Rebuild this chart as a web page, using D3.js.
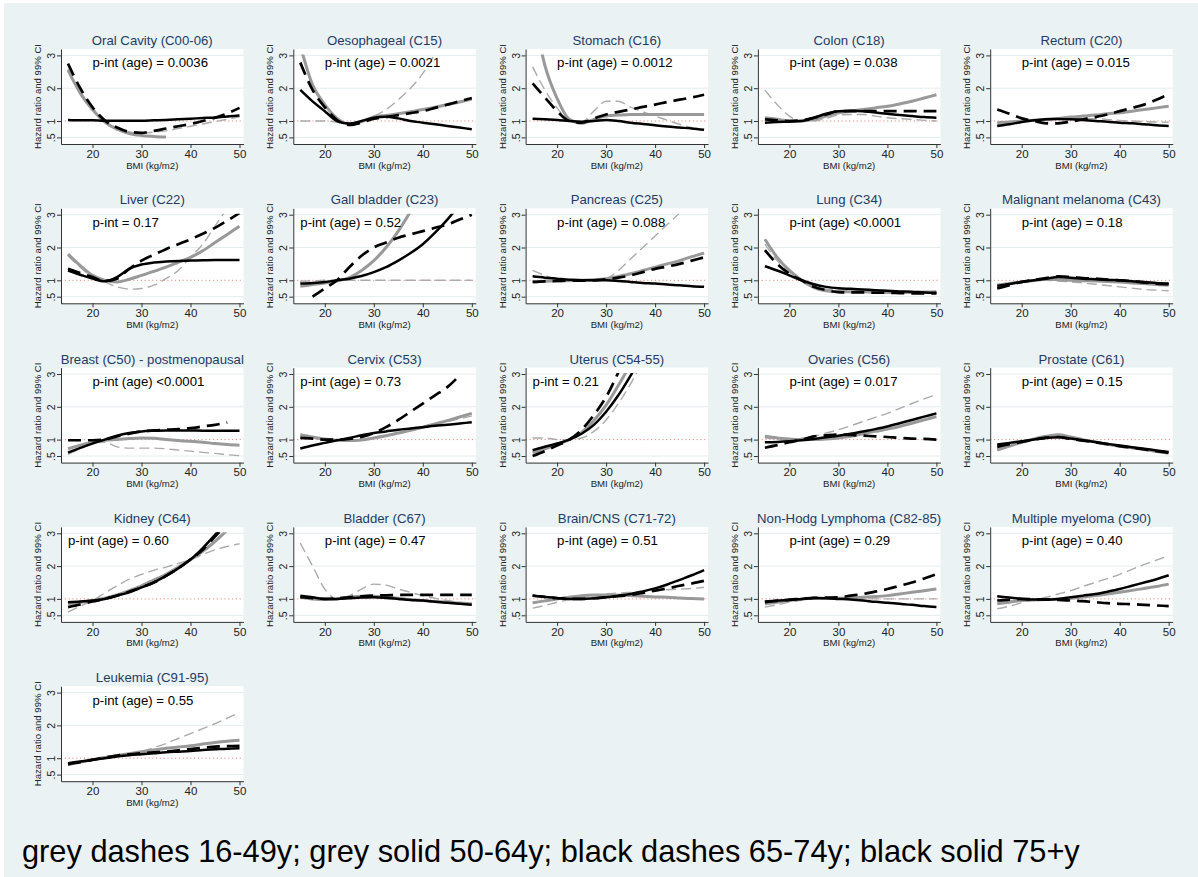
<!DOCTYPE html>
<html><head><meta charset="utf-8">
<script src="https://cdn.jsdelivr.net/npm/d3@7"></script>
<style>
body{margin:0;background:#fff}
svg{display:block}
text{font-family:"Liberation Sans",Arial,sans-serif}
</style>
</head><body>
<svg id="chart" width="1198" height="877"></svg>
<script>
// ---------------- data ----------------
const bmi = [15,17.5,20,22.5,25,27.5,30,32.5,35,37.5,40,42.5,45,47.5,50];
const cancerSites = ["Oral Cavity (C00-06)","Oesophageal (C15)","Stomach (C16)","Colon (C18)","Rectum (C20)",
  "Liver (C22)","Gall bladder (C23)","Pancreas (C25)","Lung (C34)","Malignant melanoma (C43)",
  "Breast (C50) - postmenopausal","Cervix (C53)","Uterus (C54-55)","Ovaries (C56)","Prostate (C61)",
  "Kidney (C64)","Bladder (C67)","Brain/CNS (C71-72)","Non-Hodg Lymphoma (C82-85)","Multiple myeloma (C90)",
  "Leukemia (C91-95)"];
const pIntLabels = ["p-int (age) = 0.0036","p-int (age) = 0.0021","p-int (age) = 0.0012","p-int (age) = 0.038","p-int (age) = 0.015",
  "p-int = 0.17","p-int (age) = 0.52","p-int (age) = 0.088","p-int (age) <0.0001","p-int (age) = 0.18",
  "p-int (age) <0.0001","p-int (age) = 0.73","p-int = 0.21","p-int (age) = 0.017","p-int (age) = 0.15",
  "p-int (age) = 0.60","p-int (age) = 0.47","p-int (age) = 0.51","p-int (age) = 0.29","p-int (age) = 0.40",
  "p-int (age) = 0.55"];
const pLabelBmi = [20,20,20,20,20, 20,15,20,20,20, 20,15,15,20,20, 15,20,20,20,20, 20];
const xTickValues = [20,30,40,50];
const yTickValues = [0.5,1,2,3];
const yTickLabels = [".5","1","2","3"];
const yAxisTitle = "Hazard ratio and 99% CI";
const xAxisTitle = "BMI (kg/m2)";
const legendNote = "grey dashes 16-49y; grey solid 50-64y; black dashes 65-74y; black solid 75+y";
const _ = null;

// grey dashes: age 16-49y
const greyDash16to49 = [
 [2.6,1.9,1.38,1.0,0.78,0.67,0.63,0.66,0.7,0.77,0.84,0.91,0.98,1.05,1.13],
 [1.0,1.0,1.0,0.97,0.92,1.0,1.15,1.35,1.65,2.0,2.45,3.05,_,_,_],
 [2.65,1.95,1.4,1.02,0.97,1.3,1.6,1.6,1.42,1.28,1.15,1.02,0.9,0.8,_],
 [1.94,1.5,1.15,1.0,1.0,1.08,1.18,1.2,1.2,1.15,1.1,1.07,1.05,1.02,1.0],
 [0.88,0.92,0.96,1.0,1.03,1.06,1.08,1.08,1.07,1.05,1.02,1.0,0.98,0.97,0.96],
 [1.75,1.4,1.1,0.95,0.8,0.73,0.75,0.85,1.05,1.3,1.7,2.1,2.65,3.2,_],
 [0.97,0.98,1.0,1.0,1.0,1.0,1.0,1.0,1.0,1.0,1.0,1.0,1.0,1.0,1.0],
 [1.3,1.15,1.03,1.0,0.98,0.99,1.05,1.3,1.65,2.0,2.35,2.7,3.05,_,_],
 [2.1,1.6,1.25,1.0,0.8,0.73,0.7,0.68,0.67,0.65,0.63,0.62,0.62,0.61,0.6],
 [0.88,0.92,0.95,0.98,1.0,0.98,0.95,0.92,0.88,0.84,0.8,0.76,0.72,0.7,0.68],
 [0.55,0.72,0.9,0.92,0.78,0.74,0.74,0.74,0.72,0.68,0.65,0.61,0.58,0.54,0.51],
 [1.08,1.04,1.0,0.98,0.97,1.0,1.08,1.14,1.2,1.28,1.36,1.45,1.55,1.63,1.72],
 [1.05,1.05,1.0,1.0,1.05,1.25,1.6,2.1,2.7,3.4,_,_,_,_,_],
 [1.05,1.02,1.0,1.04,1.1,1.2,1.3,1.42,1.55,1.68,1.8,1.95,2.1,2.24,2.38],
 [0.72,0.82,0.9,1.0,1.08,1.13,1.05,0.97,0.9,0.84,0.78,0.73,0.68,0.63,0.58],
 [0.6,0.78,0.95,1.18,1.4,1.6,1.75,1.87,1.97,2.08,2.2,2.35,2.5,2.6,2.68],
 [2.7,2.0,1.3,1.0,1.1,1.3,1.45,1.42,1.3,1.2,1.1,1.02,0.95,0.9,0.88],
 [0.72,0.8,0.9,0.98,1.05,1.1,1.15,1.18,1.2,1.22,1.25,1.28,1.3,1.32,1.35],
 [0.75,0.82,0.9,0.96,1.0,1.0,1.0,1.0,1.0,1.0,1.0,1.0,1.0,1.0,1.0],
 [0.7,0.78,0.88,0.97,1.05,1.15,1.25,1.38,1.5,1.62,1.75,1.9,2.05,2.18,2.32],
 [0.85,0.9,0.95,1.0,1.05,1.12,1.2,1.32,1.45,1.6,1.75,1.9,2.05,2.22,2.4]
];
// grey solid: age 50-64y
const greySolid50to64 = [
 [2.55,1.85,1.35,0.97,0.75,0.62,0.56,0.53,0.51,_,_,_,_,_,_],
 [3.3,2.1,1.5,1.08,0.9,0.98,1.12,1.17,1.22,1.28,1.35,1.42,1.5,1.58,1.67],
 [4.5,2.7,1.69,1.05,0.93,1.05,1.15,1.18,1.2,1.2,1.2,1.2,1.2,1.2,1.2],
 [1.1,1.05,1.0,1.0,1.05,1.15,1.25,1.3,1.35,1.4,1.45,1.52,1.6,1.7,1.8],
 [0.95,0.97,1.0,1.02,1.05,1.08,1.12,1.15,1.18,1.22,1.25,1.3,1.35,1.4,1.45],
 [1.8,1.45,1.15,1.0,0.95,1.03,1.15,1.27,1.4,1.55,1.7,1.9,2.15,2.4,2.65],
 [0.82,0.87,0.92,0.98,1.08,1.3,1.6,2.0,2.5,3.1,_,_,_,_,_],
 [0.95,0.97,0.98,0.99,1.0,1.02,1.05,1.12,1.2,1.3,1.4,1.5,1.6,1.72,1.83],
 [2.25,1.7,1.3,1.0,0.78,0.68,0.65,0.65,0.65,0.64,0.63,0.63,0.63,0.64,0.65],
 [0.85,0.9,0.95,0.99,1.03,1.02,1.0,0.99,0.98,0.96,0.95,0.92,0.9,0.87,0.85],
 [0.72,0.83,0.92,0.98,1.0,1.03,1.05,1.04,1.0,0.97,0.95,0.92,0.88,0.85,0.83],
 [1.15,1.08,1.02,0.98,0.97,0.99,1.05,1.12,1.2,1.28,1.38,1.48,1.58,1.69,1.8],
 [0.6,0.72,0.85,1.0,1.22,1.58,2.05,2.65,3.3,_,_,_,_,_,_],
 [1.1,1.05,1.02,1.0,1.0,1.02,1.05,1.1,1.18,1.25,1.32,1.4,1.5,1.6,1.7],
 [0.68,0.8,0.92,1.02,1.1,1.15,1.08,1.0,0.93,0.86,0.8,0.75,0.7,0.64,0.58],
 [0.85,0.9,0.95,1.02,1.12,1.25,1.4,1.57,1.75,1.97,2.2,2.45,2.75,3.1,_],
 [1.05,1.0,0.98,1.0,1.05,1.08,1.08,1.05,1.02,0.98,0.95,0.92,0.9,0.87,0.85],
 [0.88,0.94,1.0,1.05,1.1,1.12,1.12,1.11,1.1,1.08,1.06,1.05,1.03,1.01,1.0],
 [0.85,0.9,0.95,1.0,1.02,1.02,1.02,1.03,1.05,1.07,1.1,1.15,1.2,1.25,1.3],
 [0.85,0.9,0.95,0.97,0.98,1.0,1.02,1.06,1.1,1.15,1.2,1.26,1.32,1.38,1.45],
 [0.8,0.88,0.95,1.02,1.08,1.14,1.2,1.25,1.3,1.34,1.38,1.43,1.48,1.52,1.55]
];
// black dashes: age 65-74y
const blackDash65to74 = [
 [2.75,2.0,1.42,1.02,0.8,0.67,0.64,0.7,0.77,0.84,0.91,1.0,1.1,1.23,1.4],
 [2.78,1.95,1.42,1.03,0.88,0.95,1.07,1.12,1.18,1.24,1.3,1.4,1.5,1.6,1.7],
 [2.15,1.72,1.3,1.0,0.95,1.08,1.2,1.28,1.35,1.43,1.5,1.58,1.65,1.72,1.8],
 [1.05,1.02,1.0,1.02,1.1,1.2,1.3,1.3,1.3,1.3,1.3,1.3,1.3,1.3,1.3],
 [1.35,1.22,1.08,1.0,0.93,0.93,0.98,1.05,1.12,1.2,1.3,1.4,1.5,1.65,1.82],
 [1.35,1.22,1.1,0.98,1.05,1.35,1.6,1.78,1.95,2.1,2.25,2.42,2.6,2.82,3.05],
 [_,0.5,0.75,1.0,1.4,1.75,2.0,2.15,2.3,2.4,2.5,2.6,2.7,2.85,3.0],
 [0.95,0.97,0.98,0.99,0.99,1.0,1.03,1.08,1.15,1.25,1.35,1.42,1.5,1.6,1.7],
 [1.92,1.5,1.2,1.0,0.8,0.7,0.64,0.63,0.63,0.62,0.62,0.61,0.6,0.6,0.6],
 [0.75,0.85,0.95,1.01,1.07,1.12,1.1,1.07,1.05,1.02,1.0,0.97,0.93,0.9,0.88],
 [0.98,0.98,0.98,1.0,1.1,1.18,1.25,1.28,1.3,1.32,1.35,1.4,1.45,1.52,_],
 [1.05,1.03,1.0,1.0,1.02,1.08,1.2,1.38,1.6,1.85,2.1,2.35,2.6,2.95,_],
 [0.5,0.65,0.82,1.0,1.3,1.75,2.3,3.05,_,_,_,_,_,_,_],
 [0.75,0.83,0.92,1.0,1.1,1.13,1.15,1.14,1.12,1.1,1.08,1.05,1.03,1.02,1.0],
 [0.78,0.86,0.93,1.0,1.06,1.08,1.02,0.97,0.92,0.86,0.8,0.75,0.7,0.65,0.6],
 [0.75,0.83,0.92,1.0,1.1,1.22,1.35,1.5,1.7,1.93,2.2,2.5,2.9,3.3,_],
 [1.05,1.02,1.0,1.02,1.05,1.08,1.1,1.11,1.12,1.12,1.12,1.12,1.12,1.12,1.12],
 [1.1,1.06,1.02,1.0,1.0,1.02,1.05,1.08,1.12,1.18,1.25,1.32,1.4,1.47,1.55],
 [0.9,0.94,0.98,1.0,1.03,1.04,1.05,1.1,1.15,1.22,1.3,1.4,1.5,1.62,1.75],
 [0.95,0.98,1.0,0.99,0.98,0.97,0.95,0.93,0.9,0.87,0.85,0.84,0.82,0.8,0.78],
 [0.82,0.88,0.95,1.02,1.08,1.12,1.15,1.18,1.2,1.24,1.28,1.32,1.35,1.37,1.38]
];
// black solid: age 75+y
const blackSolid75plus = [
 [1.03,1.02,1.02,1.01,1.01,1.01,1.01,1.02,1.03,1.05,1.07,1.09,1.11,1.14,1.17],
 [1.95,1.6,1.3,1.0,0.92,1.0,1.1,1.13,1.08,1.0,0.95,0.9,0.85,0.8,0.75],
 [1.07,1.05,1.03,1.0,0.98,1.0,1.03,1.0,0.95,0.91,0.87,0.83,0.8,0.77,0.73],
 [0.95,0.97,0.98,1.0,1.1,1.22,1.3,1.31,1.3,1.26,1.22,1.18,1.15,1.12,1.1],
 [0.85,0.9,0.97,1.02,1.05,1.06,1.05,1.03,1.0,0.98,0.95,0.93,0.9,0.87,0.85],
 [1.3,1.17,1.05,0.97,1.1,1.35,1.48,1.54,1.57,1.59,1.6,1.61,1.62,1.62,1.62],
 [0.9,0.92,0.95,1.0,1.05,1.13,1.25,1.4,1.6,1.83,2.1,2.45,2.85,3.3,_],
 [1.12,1.08,1.05,1.02,1.0,1.0,1.0,0.98,0.95,0.92,0.9,0.87,0.85,0.82,0.8],
 [1.43,1.3,1.15,1.0,0.88,0.8,0.76,0.74,0.72,0.7,0.68,0.66,0.65,0.63,0.62],
 [0.83,0.89,0.95,1.0,1.05,1.1,1.08,1.05,1.03,1.01,1.0,0.97,0.95,0.92,0.9],
 [0.6,0.75,0.88,1.0,1.12,1.2,1.25,1.27,1.28,1.28,1.28,1.27,1.27,1.27,1.27],
 [0.73,0.82,0.9,0.98,1.05,1.13,1.2,1.25,1.3,1.34,1.38,1.42,1.45,1.49,1.53],
 [0.68,0.78,0.88,1.0,1.18,1.45,1.85,2.35,2.95,3.6,_,_,_,_,_],
 [0.92,0.93,0.95,0.98,1.02,1.07,1.12,1.18,1.25,1.32,1.4,1.5,1.6,1.7,1.8],
 [0.85,0.9,0.95,1.0,1.05,1.07,1.03,0.98,0.93,0.87,0.82,0.77,0.72,0.67,0.62],
 [0.9,0.92,0.95,1.0,1.1,1.2,1.35,1.5,1.7,1.93,2.2,2.55,2.95,3.4,_],
 [1.1,1.05,1.0,1.0,1.02,1.04,1.05,1.03,1.0,0.97,0.95,0.91,0.88,0.85,0.82],
 [1.1,1.06,1.03,1.0,1.0,1.02,1.05,1.1,1.15,1.23,1.32,1.44,1.58,1.72,1.88],
 [0.92,0.95,0.97,1.0,1.03,1.02,1.0,0.98,0.95,0.91,0.88,0.85,0.82,0.78,0.75],
 [1.08,1.04,1.0,0.98,0.98,1.0,1.05,1.1,1.15,1.22,1.3,1.4,1.5,1.6,1.72],
 [0.85,0.9,0.95,1.0,1.05,1.09,1.12,1.15,1.18,1.2,1.22,1.25,1.27,1.29,1.3]
];

// ---------------- styles / layout ----------------
const seriesList = [
  {data: greyDash16to49,   color:"#ababab", width:1.4, dash:"10,5"},
  {data: greySolid50to64,  color:"#999999", width:3,   dash:null},
  {data: blackDash65to74,  color:"#000000", width:2.7, dash:"13,7"},
  {data: blackSolid75plus, color:"#000000", width:2.5, dash:null}
];
const BG = "#eaf2f3";
const TITLE_COL = "#1f3b66";
const FONT = '"Liberation Sans",Arial,sans-serif';

const svg = d3.select("#chart");
svg.append("rect").attr("x",4).attr("y",3).attr("width",1194).attr("height",874).attr("fill",BG);

const defs = svg.append("defs");

cancerSites.forEach((site, i) => {
  const col = i % 5, row = Math.floor(i / 5);
  const x15 = 68 + 232.3 * col;
  const x50 = x15 + 171.5;
  const y1 = 121 + 159.3 * row;
  const x = d3.scaleLinear().domain([15,50]).range([x15, x50]);
  const y = d3.scaleLinear().domain([1,3]).range([y1, y1 - 65.6]);
  const left = x15 - 7, right = x50 + 4, top = y1 - 72, bottom = y1 + 23;

  const g = svg.append("g");
  g.append("rect").attr("x",left).attr("y",top).attr("width",right-left).attr("height",bottom-top).attr("fill","#fff");
  g.selectAll(".grid").data(yTickValues.filter(v => v !== 1)).join("line")
    .attr("x1",left).attr("x2",right).attr("y1",d=>y(d)).attr("y2",d=>y(d))
    .attr("stroke","#e4ecee").attr("stroke-width",1);
  g.append("line").attr("x1",left).attr("x2",right).attr("y1",y(1)).attr("y2",y(1))
    .attr("stroke","#e58a8a").attr("stroke-width",1).attr("stroke-dasharray","1.2,2.6");

  const yAxisScale = y.copy().domain([y.invert(bottom), y.invert(top)]).range([bottom, top]);
  const ya = g.append("g").attr("transform",`translate(${left},0)`)
    .call(d3.axisLeft(yAxisScale).tickValues(yTickValues).tickFormat((d,k)=>yTickLabels[k]).tickSizeInner(4).tickSizeOuter(0));
  ya.select(".domain").attr("stroke","#333");
  ya.selectAll(".tick line").attr("stroke","#333");
  ya.selectAll(".tick text").attr("transform","rotate(-90)").attr("x",0).attr("y",-6).attr("dy",0)
    .attr("text-anchor","middle").attr("font-size",10.5).attr("fill","#222").style("font-family",FONT);

  const xAxisScale = x.copy().domain([x.invert(left), x.invert(right)]).range([left, right]);
  const xa = g.append("g").attr("transform",`translate(0,${bottom})`)
    .call(d3.axisBottom(xAxisScale).tickValues(xTickValues).tickSizeInner(4).tickSizeOuter(0));
  xa.select(".domain").attr("stroke","#333");
  xa.selectAll(".tick line").attr("stroke","#333");
  xa.selectAll(".tick text").attr("y",5.5).attr("dy","0.71em").attr("font-size",11.5).attr("fill","#222").style("font-family",FONT);

  g.append("text").attr("transform",`translate(${left-20},${(top+bottom)/2}) rotate(-90)`)
    .attr("text-anchor","middle").attr("font-size",9.6).attr("fill","#222").text(yAxisTitle);
  g.append("text").attr("x",(left+right)/2).attr("y",bottom+24.5)
    .attr("text-anchor","middle").attr("font-size",9.6).attr("fill","#222").text(xAxisTitle);

  g.append("text").attr("x",(left+right)/2).attr("y",top-4)
    .attr("text-anchor","middle").attr("font-size",13.2).attr("fill",TITLE_COL).text(site);

  const cid = "clip" + i;
  defs.append("clipPath").attr("id",cid).append("rect")
    .attr("x",left).attr("y",y(3.03)).attr("width",right-left).attr("height",bottom - y(3.03));

  const line = d3.line()
    .defined(d => d.v !== null)
    .x(d => x(d.b)).y(d => y(d.v))
    .curve(d3.curveMonotoneX);

  const lg = g.append("g").attr("clip-path",`url(#${cid})`);
  seriesList.forEach(s => {
    const pts = bmi.map((b,k) => ({b, v: s.data[i][k]}));
    lg.append("path").attr("d", line(pts)).attr("fill","none")
      .attr("stroke", s.color).attr("stroke-width", s.width)
      .attr("stroke-dasharray", s.dash).attr("stroke-linejoin","round");
  });

  g.append("text").attr("x", x(pLabelBmi[i])).attr("y", y(3) + 12)
    .attr("font-size",13.2).attr("fill","#000").text(pIntLabels[i]);
});

const note = svg.append("text").attr("x",22).attr("y",862).attr("font-size",31).attr("fill","#000").text(legendNote);
const w = note.node().getComputedTextLength();
note.attr("font-size", 31 * 1058 / w);
</script>
</body></html>
